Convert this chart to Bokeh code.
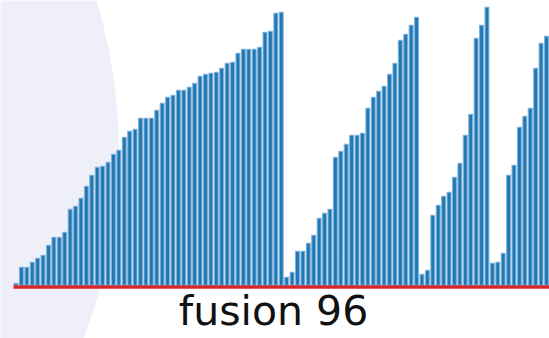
from bokeh.plotting import figure
from bokeh.models import Range1d
from bokeh.core.properties import value
from bokeh.embed import file_html
from bokeh.resources import INLINE

# Bar heights, four rising runs (arbitrary units ~ px)
seg1 = [2, 18, 18, 23, 27, 30, 40, 48, 48, 53, 76, 79, 87, 99, 110, 118, 119, 123, 131, 135,
        148, 154, 156, 167, 167, 167, 175, 182, 188, 190, 195, 195, 198, 202, 209, 211, 212,
        213, 217, 222, 223, 232, 236, 236, 236, 238, 253, 254, 272, 273]
seg2 = [8, 13, 34, 34, 42, 50, 67, 72, 76, 128, 134, 141, 150, 150, 152, 177, 188, 194, 199,
        211, 222, 245, 251, 260, 268]
seg3 = [11, 15, 70, 80, 89, 93, 108, 122, 150, 171, 247, 260, 278]
seg4 = [22, 23, 32, 110, 120, 158, 169, 177, 217, 242, 249]
label = "fusion 96"

heights = seg1 + seg2 + seg3 + seg4
xs = list(range(len(heights)))

W, H = 549, 338
px = 5.413
xs0 = -15.5 / px
p = figure(width=W, height=H, output_backend="svg", toolbar_location=None,
           x_range=Range1d(xs0, xs0 + W / px), y_range=Range1d(-53.2, 284.8),
           min_border=0)
p.axis.visible = False
p.grid.visible = False
p.outline_line_color = None
p.background_fill_color = "white"
p.border_fill_color = "white"

# soft lavender disc at left
p.circle(x=[-77.1], y=[134.8], radius=520, radius_units="screen",
         fill_color="#efeff9", line_color=None)

p.vbar(x=xs, top=heights, bottom=0, width=0.72, fill_color="#1f77b4",
       line_color="#7fb2da", line_width=1.1)

p.segment(x0=[-0.46], y0=[-1.6], x1=[xs0 + W / px + 1], y1=[-1.6],
          line_color="#d62728", line_width=3.5)

p.text(x=[47.57], y=[-26.0], text=[label], text_font=value("DejaVu Sans"),
       text_font_size="41px", text_align="center", text_baseline="middle",
       text_color="#111111")

open("out.html", "w").write(file_html(p, INLINE))
